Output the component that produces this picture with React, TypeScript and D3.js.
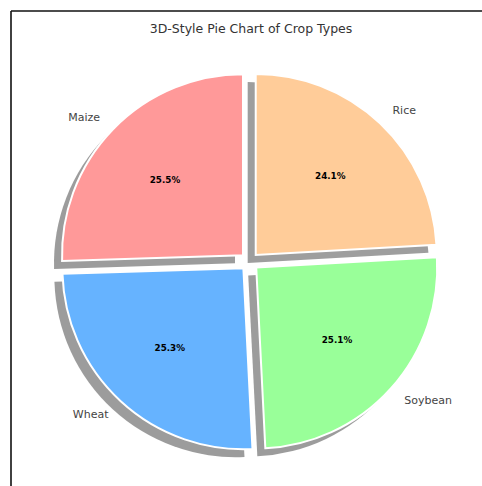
import React from "react";
import * as d3 from "d3";

const categories = ["Maize", "Wheat", "Soybean", "Rice"];
const values = [25.5, 25.3, 25.1, 24.1];
const colors = ["#ff9999", "#66b3ff", "#99ff99", "#ffcc99"];
const explode = [0.05, 0.05, 0.05, 0.05];
const title = "3D-Style Pie Chart of Crop Types";

const W = 482;
const H = 486;
const cx = 249.5;
const cy = 261.5;
const R = 181;
const shadowOff = 8;

export default function App() {
  const pie = d3
    .pie<number>()
    .sort(null)
    .startAngle(0)
    .endAngle(-2 * Math.PI);
  const arcs = pie(values);
  const arc = d3.arc<d3.PieArcDatum<number>>().innerRadius(0).outerRadius(R);
  const total = d3.sum(values);

  const items = arcs.map((a, i) => {
    const mid = (a.startAngle + a.endAngle) / 2;
    const ux = Math.sin(mid);
    const uy = -Math.cos(mid);
    const off = explode[i] * R;
    const ox = ux * off;
    const oy = uy * off;
    const lab = R * 1.1 + off;
    const pct = R * 0.6 + off;
    return {
      a,
      i,
      ox,
      oy,
      lx: ux * lab,
      ly: uy * lab,
      px: ux * pct,
      py: uy * pct,
      anchor: ux < 0 ? "end" : "start",
    };
  });

  const shadowColor = (c: string) => {
    const rgb = d3.rgb(c);
    const m = (rgb.r + rgb.g + rgb.b) / 3;
    const g = m * 0.3 * 0.5 + 30;
    return d3.rgb(g, g, g).toString();
  };

  return (
    <svg
      width={W}
      height={H}
      style={{ position: "absolute", left: 0, top: 0, background: "#fff" }}
      fontFamily="DejaVu Sans, sans-serif"
    >
      <rect x={0} y={0} width={W} height={H} fill="#fff" />
      <line x1={11} y1={11} x2={W} y2={11} stroke="#111" strokeWidth={1.6} />
      <line x1={11} y1={11} x2={11} y2={H} stroke="#111" strokeWidth={1.6} />
      <text
        x={251}
        y={33}
        textAnchor="middle"
        fontSize={12.5}
        fill="#333"
      >
        {title}
      </text>
      <g transform={`translate(${cx},${cy})`}>
        {items.map((it) => (
          <path
            key={"s" + it.i}
            d={arc(it.a) || ""}
            transform={`translate(${it.ox - shadowOff},${it.oy + shadowOff})`}
            fill={shadowColor(colors[it.i])}
            fillOpacity={0.5}
          />
        ))}
        {items.map((it) => (
          <path
            key={"w" + it.i}
            d={arc(it.a) || ""}
            transform={`translate(${it.ox},${it.oy})`}
            fill={colors[it.i]}
            stroke="#fff"
            strokeWidth={2}
          />
        ))}
        {items.map((it) => (
          <text
            key={"l" + it.i}
            x={it.lx}
            y={it.ly}
            dy="0.35em"
            textAnchor={it.anchor}
            fontSize={11}
            fill="#444"
          >
            {categories[it.i]}
          </text>
        ))}
        {items.map((it) => (
          <text
            key={"p" + it.i}
            x={it.px}
            y={it.py}
            dy="0.35em"
            textAnchor="middle"
            fontSize={8.8}
            fontWeight="bold"
            fill="#000"
          >
            {((values[it.i] / total) * 100).toFixed(1) + "%"}
          </text>
        ))}
      </g>
    </svg>
  );
}
